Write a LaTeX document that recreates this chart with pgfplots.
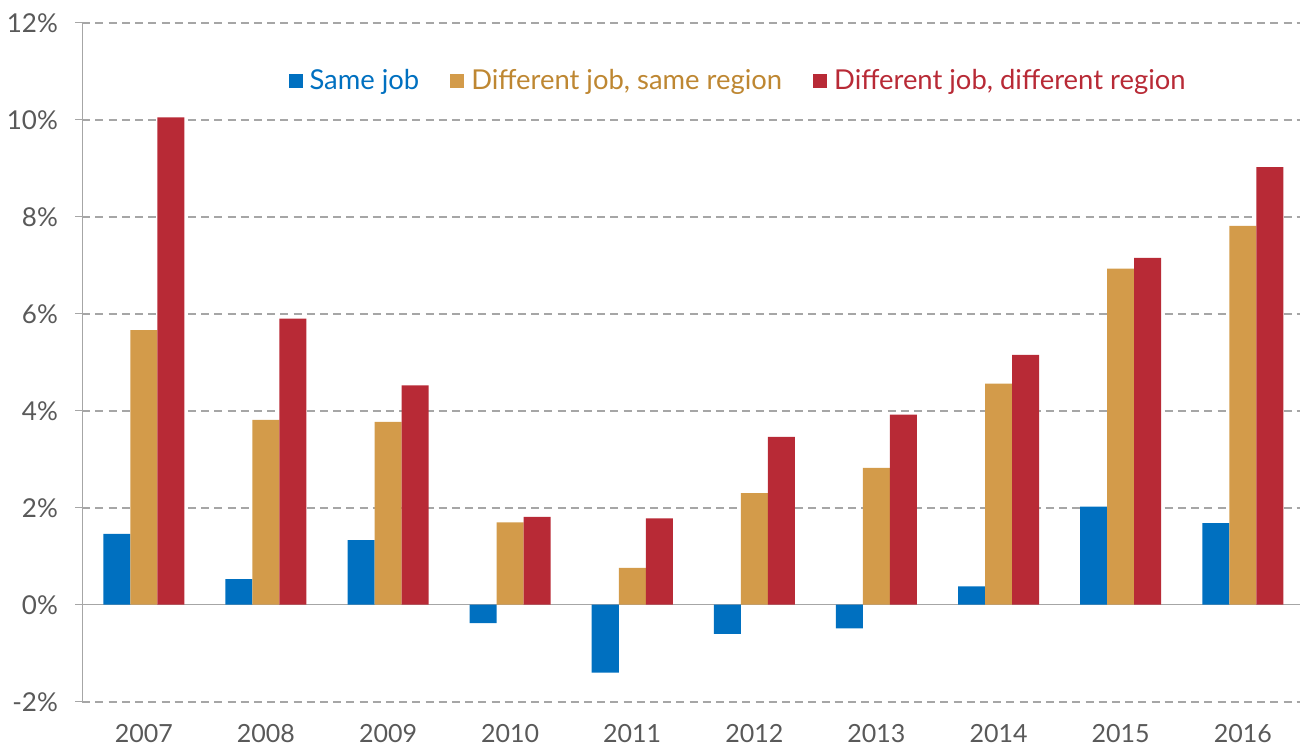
\documentclass[border=0pt]{standalone}
\usepackage{pgfplots}
\pgfplotsset{compat=1.18}
\usepackage{fontspec}
\setmainfont{Lato}
\definecolor{sameblue}{RGB}{0,112,192}
\definecolor{samegold}{RGB}{211,155,74}
\definecolor{diffred}{RGB}{184,42,54}
\definecolor{gridgray}{RGB}{166,166,166}
\definecolor{labgray}{RGB}{89,89,89}
\definecolor{goldtext}{RGB}{190,135,50}
\begin{document}
\begin{tikzpicture}
\path[use as bounding box] (-41.15pt,-25.15pt) rectangle (608.85pt,350.85pt);
\begin{axis}[
  scale only axis,
  width=608.85pt, height=339.5pt,
  ybar=0pt, bar width=13.5pt,
  xmin=-0.504, xmax=9.469,
  ymin=-2, ymax=12,
  xtick={0,...,9},
  xticklabels={2007,2008,2009,2010,2011,2012,2013,2014,2015,2016},
  ytick={-2,2,4,6,8,10,12},
  extra y ticks={0},
  extra y tick style={grid style={solid, color=gridgray, line width=0.7pt}},
  yticklabel={\pgfmathprintnumber{\tick}\%},
  /pgf/number format/assume math mode=true,
  axis x line*=bottom, axis y line*=left,
  x axis line style={draw=none},
  y axis line style={draw=gridgray, line width=0.6pt, -},
  major x tick style={draw=none},
  major y tick style={draw=gridgray, line width=0.6pt},
  tick align=outside, major tick length=3.5pt,
  ymajorgrids,
  grid style={dashed, dash pattern=on 4pt off 2.6pt, color=gridgray, line width=1pt},
  yticklabel style={font=\fontsize{13}{15}\selectfont, text=labgray, inner sep=0pt, anchor=east, xshift=-8.5pt},
  xticklabel style={font=\fontsize{12.5}{14}\selectfont, text=labgray, inner sep=0pt, anchor=north, yshift=-7.5pt},
  legend columns=-1,
  legend style={at={(0.169,0.914)}, anchor=west, draw=none, fill=none, inner sep=0pt,
    font=\fontsize{13.7}{16}\selectfont,
    nodes={inner xsep=3.5pt},
    /tikz/every even column/.append style={column sep=12pt}},
]
\addplot[fill=sameblue, draw=none, legend image code/.code={\fill[sameblue] (0pt,-3.5pt) rectangle (7pt,3.5pt);}] coordinates {
(0,1.46) (1,0.53) (2,1.33) (3,-0.38) (4,-1.40) (5,-0.60) (6,-0.49) (7,0.38) (8,2.02) (9,1.68)};
\addlegendentry{\textcolor{sameblue}{Same job}}
\addplot[fill=samegold, draw=none, legend image code/.code={\fill[samegold] (0pt,-3.5pt) rectangle (7pt,3.5pt);}] coordinates {
(0,5.66) (1,3.81) (2,3.77) (3,1.70) (4,0.76) (5,2.30) (6,2.82) (7,4.56) (8,6.93) (9,7.81)};
\addlegendentry{\textcolor{goldtext}{Different job, same region}}
\addplot[fill=diffred, draw=none, legend image code/.code={\fill[diffred] (0pt,-3.5pt) rectangle (7pt,3.5pt);}] coordinates {
(0,10.05) (1,5.90) (2,4.52) (3,1.81) (4,1.78) (5,3.46) (6,3.92) (7,5.15) (8,7.15) (9,9.02)};
\addlegendentry{\textcolor{diffred}{Different job, different region}}
\end{axis}
\end{tikzpicture}
\end{document}
